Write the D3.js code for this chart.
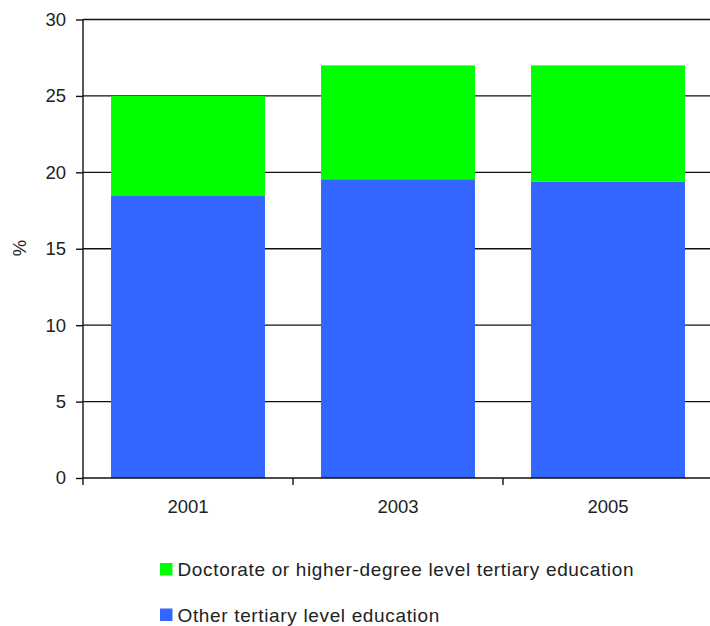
<!DOCTYPE html>
<html>
<head>
<meta charset="utf-8">
<script src="https://cdn.jsdelivr.net/npm/d3@7"></script>
<style>
html,body{margin:0;padding:0;background:#fff;overflow:hidden;}
svg{display:block;}
text{font-family:"Liberation Sans",Arial,sans-serif;fill:#222;}
</style>
</head>
<body>
<svg id="chart" width="710" height="626"></svg>
<script>
const years = ["2001", "2003", "2005"];
const otherTertiary = [18.45, 19.55, 19.4];
const doctorate = [6.55, 7.45, 7.6];
const seriesNames = ["Doctorate or higher-degree level tertiary education", "Other tertiary level education"];
const seriesColors = ["#00FF00", "#3366FF"];
const yTicks = [0, 5, 10, 15, 20, 25, 30];

(function () {
const svg = d3.select("#chart");
const mLeft = 83, mRight = 713, mTop = 19.5, mBottom = 478;

const x = d3.scaleBand().domain(years).range([mLeft, mRight]).padding(0);
const y = d3.scaleLinear().domain([0, 30]).range([mBottom, mTop]);
const barW = x.bandwidth() * 0.733;

// gridlines
svg.append("g").selectAll("line").data(yTicks.filter(t => t > 0)).join("line")
  .attr("x1", mLeft).attr("x2", mRight)
  .attr("y1", d => y(d)).attr("y2", d => y(d))
  .attr("stroke", "#111").attr("stroke-width", 1.4);

// stacked bars
const rows = years.map((yr, i) => ({year: yr, other: otherTertiary[i], doc: doctorate[i]}));
const stack = d3.stack().keys(["other", "doc"])(rows);
const colorFor = {other: seriesColors[1], doc: seriesColors[0]};
svg.append("g").selectAll("g").data(stack).join("g")
  .attr("fill", d => colorFor[d.key])
  .selectAll("rect").data(d => d).join("rect")
  .attr("x", d => x(d.data.year) + (x.bandwidth() - barW) / 2)
  .attr("width", barW)
  .attr("y", d => y(d[1]))
  .attr("height", d => y(d[0]) - y(d[1]));

// y axis
const yAxis = d3.axisLeft(y).tickValues(yTicks).tickSize(7).tickPadding(10);
const gy = svg.append("g").attr("transform", `translate(${mLeft},0)`).call(yAxis);
gy.select(".domain").attr("stroke", "#111").attr("stroke-width", 1.4).attr("d", `M0,${mTop}V${mBottom}`);
gy.selectAll(".tick line").attr("stroke", "#111").attr("stroke-width", 1.4);
gy.selectAll(".tick text").style("font-size", "18.5px").attr("fill", "#222").style("font-family", "'Liberation Sans',Arial,sans-serif");

// x axis
const xAxis = d3.axisBottom(x).tickSize(0).tickPadding(22);
const gx = svg.append("g").attr("transform", `translate(0,${mBottom})`).call(xAxis);
gx.select(".domain").attr("stroke", "#111").attr("stroke-width", 1.4).attr("d", `M${mLeft},0H${mRight}`);
gx.selectAll(".tick text").style("font-size", "18.5px").attr("fill", "#222").style("font-family", "'Liberation Sans',Arial,sans-serif");
// category separator ticks
const seps = d3.range(years.length + 1).map(i => mLeft + x.step() * i);
svg.append("g").selectAll("line").data(seps).join("line")
  .attr("x1", d => d).attr("x2", d => d)
  .attr("y1", mBottom).attr("y2", mBottom + 7)
  .attr("stroke", "#111").attr("stroke-width", 1.4);

// y label
svg.append("text").attr("transform", "translate(26,248) rotate(-90)")
  .attr("text-anchor", "middle").style("font-size", "18.5px").text("%");

// legend
const lg = svg.append("g").selectAll("g").data(seriesNames).join("g")
  .attr("transform", (d, i) => `translate(160,${563 + i * 45.5})`);
lg.append("rect").attr("width", 12.5).attr("height", 12.5).attr("fill", (d, i) => seriesColors[i]);
lg.append("text").attr("x", 17.5).attr("y", 13).style("font-size", "19px")
  .style("letter-spacing", "0.65px").text(d => d);
})();
</script>
</body>
</html>
